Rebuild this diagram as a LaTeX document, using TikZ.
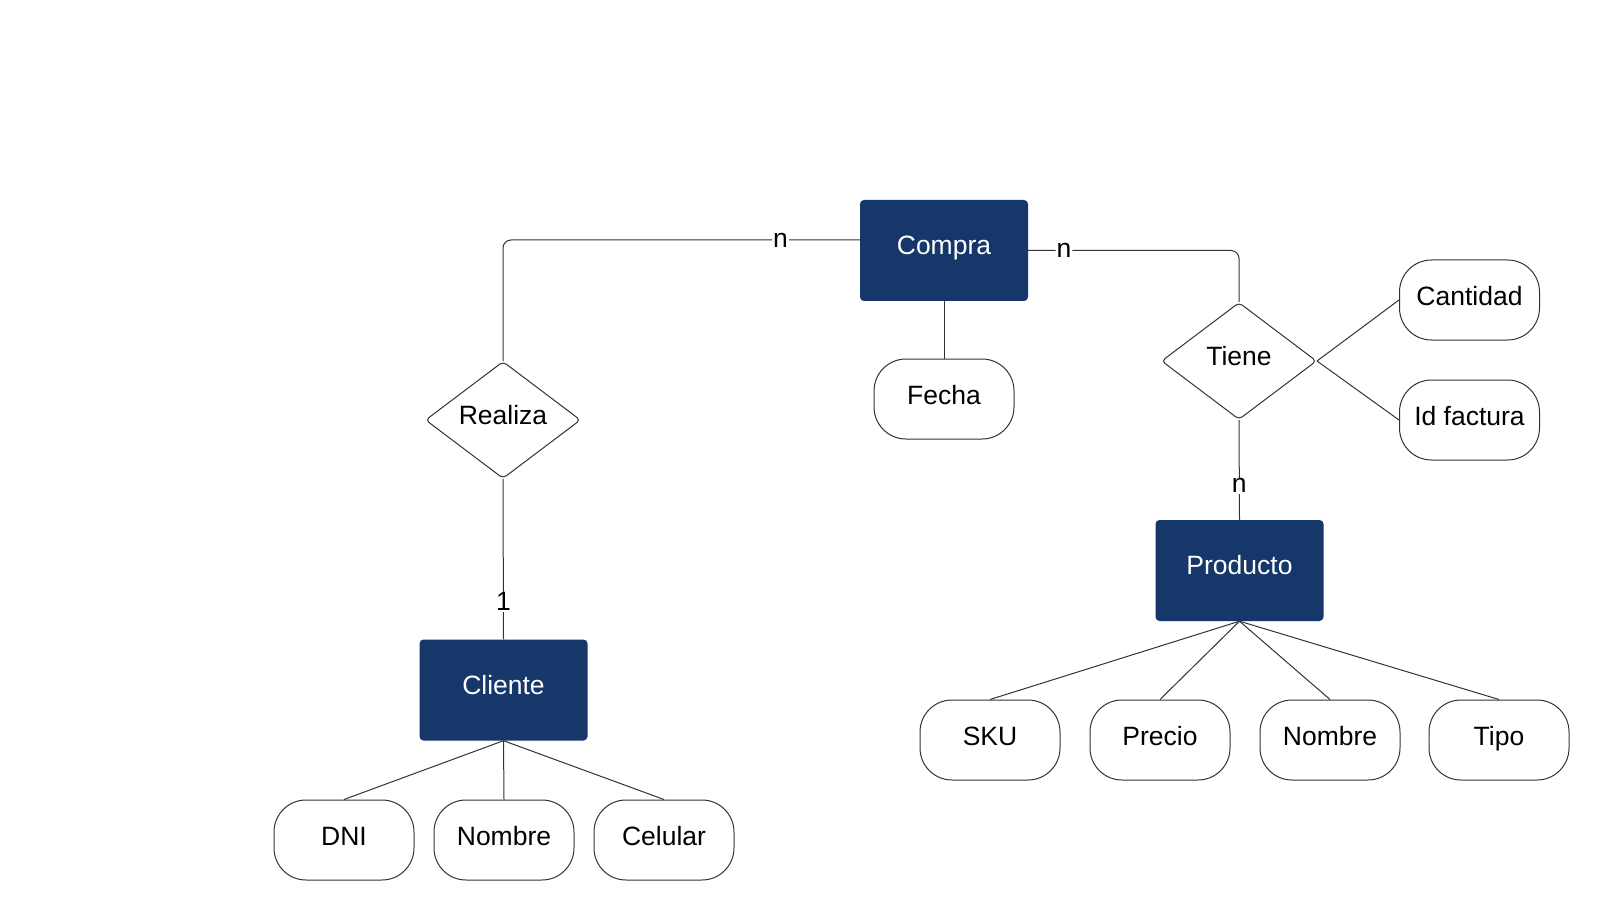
\documentclass[tikz,border=0pt]{standalone}
\usepackage{fontspec}
\setmainfont{Liberation Sans}
\usetikzlibrary{shapes.geometric,positioning}
\definecolor{entblue}{HTML}{15376A}
\definecolor{linegray}{HTML}{333333}
\tikzset{
	entity/.style={fill=entblue,text=white,rounded corners=4pt,minimum width=168pt,minimum height=101pt,inner sep=0pt,text height=0.8em,text depth=0em},
	attrib/.style={draw=linegray,line width=1pt,rounded corners=32pt,minimum width=140pt,minimum height=80pt,inner sep=0pt,text height=1.15em,text depth=0em},
	relation/.style={draw=linegray,line width=1pt,diamond,rounded corners=4pt,minimum width=155pt,minimum height=117pt,inner sep=0pt,text height=0.8em,text depth=0em},
	card/.style={fill=white,inner sep=1pt},
	conn/.style={draw=linegray,line width=1pt}
}

\begin{document}
\begin{tikzpicture}[x=1pt,y=-1pt,font=\fontsize{26.5}{31}\selectfont]
	\useasboundingbox (0,0) rectangle (1610,920);
	% entidades
	\node[entity] (compra) at (944,250.5) {Compra};
	\node[entity] (cliente) at (503.5,690) {Cliente};
	\node[entity] (producto) at (1239.5,570.5) {Producto};
	% relaciones
	\node[relation] (realiza) at (503,420) {Realiza};
	\node[relation] (tiene) at (1239,361) {Tiene};
	% atributos
	\node[attrib] (fecha) at (944,399) {Fecha};
	\node[attrib] (cantidad) at (1469.5,300) {Cantidad};
	\node[attrib] (idfactura) at (1469.5,420) {Id factura};
	\node[attrib] (dni) at (344,840) {DNI};
	\node[attrib] (nombrecli) at (504,840) {Nombre};
	\node[attrib] (celular) at (664,840) {Celular};
	\node[attrib] (sku) at (990,740) {SKU};
	\node[attrib] (precio) at (1160,740) {Precio};
	\node[attrib] (nombreprod) at (1330,740) {Nombre};
	\node[attrib] (tipo) at (1499,740) {Tipo};
	% conexiones
	\draw[conn,rounded corners=8pt] (realiza.north) |- node[card,pos=0.889] {n} (compra.west |- 0,240);
	\draw[conn,rounded corners=8pt] (compra.east) -| node[card,pos=0.085] {n} (tiene.north);
	\draw[conn] (tiene.south) -- node[card,pos=0.66] {n} (producto.north);
	\draw[conn] (realiza.south) -- node[card,pos=0.765] {1} (cliente.north);
	\draw[conn] (compra.south) -- (fecha.north);
	\draw[conn] (tiene.east) -- (cantidad.west);
	\draw[conn] (tiene.east) -- (idfactura.west);
	\draw[conn] (cliente.south) -- (dni.north);
	\draw[conn] (cliente.south) -- (nombrecli.north);
	\draw[conn] (cliente.south) -- (celular.north);
	\draw[conn] (producto.south) -- (sku.north);
	\draw[conn] (producto.south) -- (precio.north);
	\draw[conn] (producto.south) -- (nombreprod.north);
	\draw[conn] (producto.south) -- (tipo.north);
\end{tikzpicture}
\end{document}
